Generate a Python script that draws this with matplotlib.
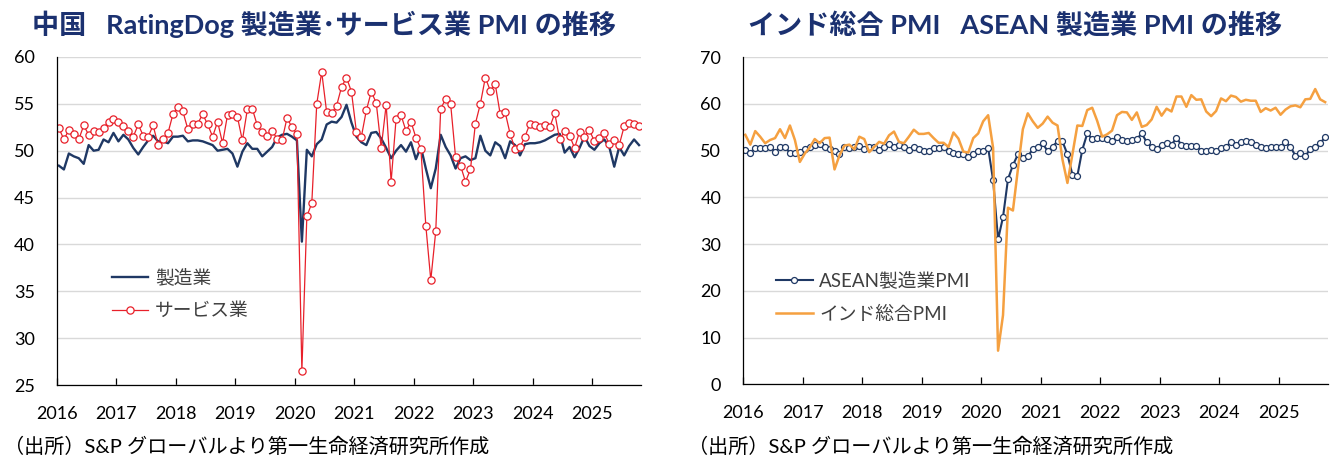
import matplotlib
matplotlib.use("Agg")
import matplotlib.pyplot as plt
import numpy as np

plt.rcParams['font.family'] = ['Lato', 'Noto Sans CJK JP', 'DejaVu Sans']

# monthly data, Jan 2016 - Oct 2025
years = [str(y) for y in range(2016, 2026)]

china_mfg = [
    48.4, 48.0, 49.7, 49.4, 49.2, 48.6, 50.6, 50.0, 50.1, 51.2, 50.9, 51.9,
    51.0, 51.7, 51.2, 50.3, 49.6, 50.4, 51.1, 51.6, 51.0, 51.0, 50.8, 51.5,
    51.5, 51.6, 51.0, 51.1, 51.1, 51.0, 50.8, 50.6, 50.0, 50.1, 50.2, 49.7,
    48.3, 49.9, 50.8, 50.2, 50.2, 49.4, 49.9, 50.4, 51.4, 51.7, 51.8, 51.5,
    51.1, 40.3, 50.1, 49.4, 50.7, 51.2, 52.8, 53.1, 53.0, 53.6, 54.9, 53.0,
    51.5, 50.9, 50.6, 51.9, 52.0, 51.3, 50.3, 49.2, 50.0, 50.6, 49.9, 50.9,
    49.1, 50.4, 48.1, 46.0, 48.1, 51.7, 50.4, 49.5, 48.1, 49.2, 49.4, 49.0,
    49.2, 51.6, 50.0, 49.5, 50.9, 50.5, 49.2, 51.0, 50.6, 49.5, 50.7, 50.8,
    50.8, 50.9, 51.1, 51.4, 51.7, 51.8, 49.8, 50.4, 49.3, 50.3, 51.5, 50.5,
    50.1, 50.8, 51.2, 50.4, 48.3, 50.4, 49.5, 50.5, 51.2, 50.6,
]

china_svc = [
    52.4, 51.2, 52.2, 51.8, 51.2, 52.7, 51.7, 52.1, 52.0, 52.4, 53.1, 53.4,
    53.1, 52.6, 52.1, 51.5, 52.8, 51.6, 51.5, 52.7, 50.6, 51.2, 51.9, 53.9,
    54.7, 54.2, 52.3, 52.9, 52.9, 53.9, 52.8, 51.5, 53.1, 50.8, 53.8, 53.9,
    53.6, 51.1, 54.4, 54.5, 52.7, 52.0, 51.6, 52.1, 51.3, 51.1, 53.5, 52.5,
    51.8, 26.5, 43.0, 44.4, 55.0, 58.4, 54.1, 54.0, 54.8, 56.8, 57.8, 56.3,
    52.0, 51.5, 54.3, 56.3, 55.1, 50.3, 54.9, 46.7, 53.4, 53.8, 52.1, 53.1,
    51.4, 50.2, 42.0, 36.2, 41.4, 54.5, 55.5, 55.0, 49.3, 48.4, 46.7, 48.0,
    52.9, 55.0, 57.8, 56.4, 57.1, 53.9, 54.1, 51.8, 50.2, 50.4, 51.5, 52.9,
    52.7, 52.5, 52.7, 52.5, 54.0, 51.2, 52.1, 51.6, 50.3, 52.0, 51.5, 52.2,
    51.0, 51.4, 51.9, 50.7, 51.1, 50.6, 52.6, 53.0, 52.9, 52.6,
]

asean_mfg = [
    50.1, 49.6, 50.6, 50.6, 50.6, 50.9, 49.7, 50.8, 50.9, 49.5, 49.5, 49.7,
    50.4, 50.7, 51.3, 51.4, 50.8, 50.4, 49.9, 49.4, 50.7, 50.6, 50.7, 51.1,
    50.3, 50.7, 50.9, 50.1, 50.9, 51.4, 50.7, 51.3, 50.7, 50.1, 50.7, 50.4,
    49.9, 49.9, 50.6, 50.6, 50.8, 49.9, 49.5, 49.3, 49.3, 48.6, 49.4, 49.9,
    50.0, 50.6, 43.7, 31.0, 35.8, 43.9, 46.9, 49.2, 48.5, 48.8, 50.3, 50.9,
    51.6, 49.9, 50.9, 52.0, 52.0, 49.2, 44.9, 44.6, 50.2, 53.7, 52.5, 52.7,
    52.7, 52.5, 52.0, 52.9, 52.3, 52.1, 52.3, 52.5, 53.7, 51.8, 50.9, 50.4,
    51.3, 51.6, 51.3, 52.7, 51.3, 51.1, 51.1, 51.1, 50.0, 50.0, 50.2, 50.0,
    50.6, 50.9, 51.8, 51.3, 51.8, 52.0, 51.8, 51.3, 50.7, 50.6, 50.9, 50.9,
    50.7, 51.8, 50.9, 48.9, 49.6, 48.8, 50.4, 50.9, 51.6, 52.9,
]

india_comp = [
    53.4, 51.3, 54.2, 53.0, 51.6, 52.3, 52.7, 54.6, 52.7, 55.4, 52.3, 47.6,
    49.4, 50.7, 52.5, 51.6, 52.7, 52.8, 46.0, 49.0, 51.1, 51.3, 50.3, 53.0,
    52.5, 49.7, 50.8, 51.9, 51.5, 53.3, 54.1, 51.9, 51.6, 53.0, 54.5, 53.6,
    53.6, 53.8, 52.7, 51.7, 51.7, 50.8, 53.9, 52.6, 49.8, 49.6, 52.7, 53.7,
    56.3, 57.6, 50.6, 7.2, 14.8, 37.8, 37.2, 46.0, 54.6, 58.0, 56.3, 54.9,
    55.8, 57.3, 56.0, 55.4, 48.1, 43.1, 49.2, 55.4, 55.3, 58.7, 59.2, 56.4,
    53.0, 53.5, 54.3, 57.6, 58.3, 58.2, 56.6, 58.2, 55.1, 55.5, 56.7, 59.4,
    57.5, 59.0, 58.4, 61.6, 61.6, 59.4, 61.9, 60.9, 61.0, 58.4, 57.4, 58.5,
    61.2, 60.6, 61.8, 61.5, 60.5, 60.9, 60.7, 60.7, 58.3, 59.1, 58.6, 59.2,
    57.7, 58.8, 59.5, 59.7, 59.3, 61.0, 61.1, 63.2, 61.0, 60.4,
]

NAVY = '#1f3864'
RED = '#e8202a'
ORANGE = '#f5a040'
TITLE = '#1b3170'
GRID = '#d9d9d9'
TXT = '#404040'

x = np.arange(len(china_mfg)) + 0.4

fig = plt.figure(figsize=(13.43, 4.73), dpi=100)
ax1 = fig.add_axes([0.0424, 0.186, 0.4349, 0.6935])
ax2 = fig.add_axes([0.5535, 0.1875, 0.4354, 0.6914])


def style(ax, ylim, step):
    ax.set_xlim(0, 117.8)
    ax.set_ylim(*ylim)
    ax.set_yticks(np.arange(ylim[0], ylim[1] + 0.1, step))
    ax.set_xticks(np.arange(0, 118, 12))
    ax.set_xticklabels(years)
    ax.grid(axis='y', color=GRID, linewidth=1.0)
    ax.set_axisbelow(True)
    for s in ['top', 'right']:
        ax.spines[s].set_visible(False)
    for s in ['left', 'bottom']:
        ax.spines[s].set_color('black')
        ax.spines[s].set_linewidth(0.9)
    ax.tick_params(axis='x', direction='in', length=5, width=0.9,
                   pad=15, labelsize=13)
    ax.tick_params(axis='y', length=0, pad=16, labelsize=13)


# left: China
style(ax1, (25, 60), 5)
ax1.plot(x, china_mfg, color=NAVY, lw=1.7, label='製造業')
ax1.plot(x, china_svc, color=RED, lw=0.9, marker='o', ms=5.2,
         mfc='white', mec=RED, mew=0.9, label='サービス業')
ax1.legend(loc='upper left', bbox_to_anchor=(0.094, 0.355), frameon=False,
           borderpad=0, borderaxespad=0, handlelength=1.95,
           handletextpad=0.35, labelspacing=0.85, labelcolor=TXT,
           prop={'size': 13.5})

# right: India / ASEAN
style(ax2, (0, 70), 10)
ax2.set_xlim(0, 118)
ax2.plot(x, asean_mfg, color=NAVY, lw=1.5, marker='o', ms=4.3,
         mfc='white', mec=NAVY, mew=0.9, label='ASEAN製造業PMI')
ax2.plot(x, india_comp, color=ORANGE, lw=1.8, label='インド総合PMI')
ax2.legend(loc='upper left', bbox_to_anchor=(0.056, 0.345), frameon=False,
           borderpad=0, borderaxespad=0, handlelength=1.95,
           handletextpad=0.35, labelspacing=0.85, labelcolor=TXT,
           prop={'size': 13.5})

fig.text(0.024, 0.948, '中国   RatingDog 製造業･サービス業 PMI の推移',
         fontsize=19.5, fontweight='bold', color=TITLE, va='center')
fig.text(0.557, 0.948, 'インド総合 PMI   ASEAN 製造業 PMI の推移',
         fontsize=19.5, fontweight='bold', color=TITLE, va='center')

fig.text(0.003, 0.058, '（出所）S&P グローバルより第一生命経済研究所作成',
         fontsize=14.5, color='black', va='center')
fig.text(0.512, 0.058, '（出所）S&P グローバルより第一生命経済研究所作成',
         fontsize=14.5, color='black', va='center')

fig.savefig('out.png', dpi=100)
